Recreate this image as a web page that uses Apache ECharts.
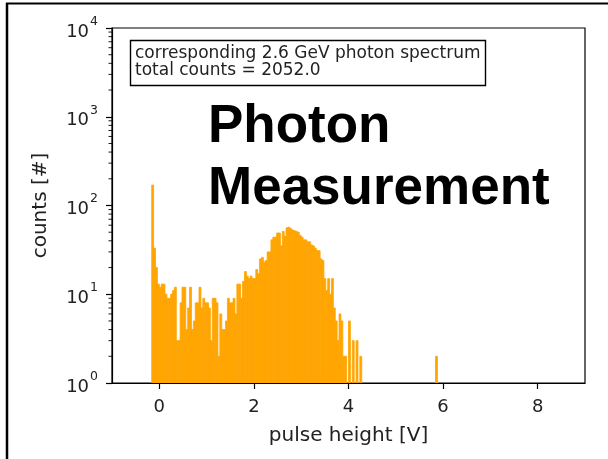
<!DOCTYPE html>
<html>
<head>
<meta charset="utf-8">
<script src="https://cdn.jsdelivr.net/npm/echarts@6/dist/echarts.min.js"></script>
<style>html,body{margin:0;padding:0;background:#fff}#c{width:608px;height:459px}</style>
</head>
<body>
<div id="c"></div>
<script>
// ---- data ----
const binStart = -0.16;
const binWidth = 0.04;
const counts = [170,33,20,13,12,13,13,10,9,9,10,11,12,
  3,3,8,12,12,4,7,12,4,5,8,8,12,7,9,8,8,7,3,9,9,8,2,6,4,4,5,9,8,8,9,6,13,13,9,
  14,18,16,15,16,15,15,19,17,25,26,23,24,30,30,41,44,44,49,49,
  35,51,45,56,57,55,53,52,51,50,46,44,41,41,39,39,36,35,33,31,31,25,24,
  15,11,15,10,15,7,5,3,6,5,2,2,1,5,0,3,0,3,0,2];
const outlierBins = [[5.84, 2]];
const xTicks = [0, 2, 4, 6, 8];
const xRange = [-1, 9];
const yRange = [1, 10000];
const legendLines = ['corresponding 2.6 GeV photon spectrum', 'total counts = 2052.0'];
const overlayLines = ['Photon', 'Measurement'];
const xName = 'pulse height [V]';
const yName = 'counts [#]';

// ---- build ----
const histData = counts.map((c, j) => [binStart + j * binWidth, c]).concat(outlierBins);
const minorVals = [];
for (let d = 0; d < 4; d++) for (let m = 2; m <= 9; m++) minorVals.push([xRange[0], m * Math.pow(10, d)]);

const FONT = 'DejaVu Sans';
const TXT = '#222';
const chart = echarts.init(document.getElementById('c'), null, {renderer: 'canvas'});
chart.setOption({
  animation: false,
  grid: {left: 112, top: 28, right: 23, bottom: 76, show: true, borderColor: '#000', borderWidth: 1.2, backgroundColor: 'transparent'},
  xAxis: {
    type: 'value', min: xRange[0], max: xRange[1],
    name: xName, nameLocation: 'middle', nameGap: 43,
    nameTextStyle: {fontFamily: FONT, fontSize: 20, color: TXT},
    axisLine: {show: true, onZero: false, lineStyle: {color: '#000', width: 1.2}},
    axisTick: {show: true, length: 6, customValues: xTicks, lineStyle: {color: '#000', width: 1.2}},
    axisLabel: {customValues: xTicks, margin: 15, fontFamily: FONT, fontSize: 18, color: TXT},
    splitLine: {show: false}
  },
  yAxis: {
    type: 'log', logBase: 10, min: yRange[0], max: yRange[1],
    name: yName, nameLocation: 'middle', nameGap: 61, nameRotate: 90,
    nameTextStyle: {fontFamily: FONT, fontSize: 20, color: TXT},
    axisLine: {show: true, onZero: false, lineStyle: {color: '#000', width: 1.2}},
    axisTick: {show: true, length: 6, lineStyle: {color: '#000', width: 1.2}},
    axisLabel: {
      margin: 14,
      formatter: v => '{b|10}{e|' + Math.round(Math.log10(v)) + '}',
      rich: {
        b: {fontFamily: FONT, fontSize: 18, color: TXT, lineHeight: 26, verticalAlign: 'bottom'},
        e: {fontFamily: FONT, fontSize: 12.5, color: TXT, lineHeight: 26, verticalAlign: 'top', padding: [0, 0, 0, 1]}
      }
    },
    splitLine: {show: false}
  },
  series: [
    {
      type: 'custom', clip: true,
      renderItem: function (params, api) {
        const x0 = api.value(0), v = api.value(1);
        if (!(v > 1)) return null;
        const p0 = api.coord([x0, v]);
        const p1 = api.coord([x0 + binWidth, yRange[0]]);
        return {type: 'rect', shape: {x: p0[0], y: p0[1], width: p1[0] - p0[0], height: p1[1] - p0[1]},
          style: {fill: '#ffa500', stroke: '#ffa500', lineWidth: 0.8}};
      },
      data: histData
    },
    {
      type: 'custom', clip: false,
      renderItem: function (params, api) {
        const p = api.coord([api.value(0), api.value(1)]);
        return {type: 'line', shape: {x1: p[0], y1: p[1], x2: p[0] - 3.5, y2: p[1]},
          style: {stroke: '#000', lineWidth: 0.9}};
      },
      data: minorVals
    }
  ],
  graphic: [
    {type: 'line', shape: {x1: 7, y1: 3, x2: 7, y2: 459}, style: {stroke: '#000', lineWidth: 2.5}},
    {type: 'line', shape: {x1: 6, y1: 3.5, x2: 608, y2: 3.5}, style: {stroke: '#000', lineWidth: 2}},
    {type: 'rect', shape: {x: 130.5, y: 40.5, width: 355, height: 45}, style: {fill: '#fff', stroke: '#000', lineWidth: 1.4}, z: 10},
    {type: 'text', x: 135, y: 54, z: 11, style: {text: legendLines[0], font: '17px "DejaVu Sans"', fill: TXT, verticalAlign: 'middle'}},
    {type: 'text', x: 135, y: 71, z: 11, style: {text: legendLines[1], font: '17px "DejaVu Sans"', fill: TXT, verticalAlign: 'middle'}},
    {type: 'text', x: 208, y: 127, z: 11, style: {text: overlayLines[0], font: 'bold 53px "Liberation Sans"', fill: '#000', verticalAlign: 'middle'}},
    {type: 'text', x: 208, y: 189, z: 11, style: {text: overlayLines[1], font: 'bold 53px "Liberation Sans"', fill: '#000', verticalAlign: 'middle'}}
  ]
});
</script>
</body>
</html>
